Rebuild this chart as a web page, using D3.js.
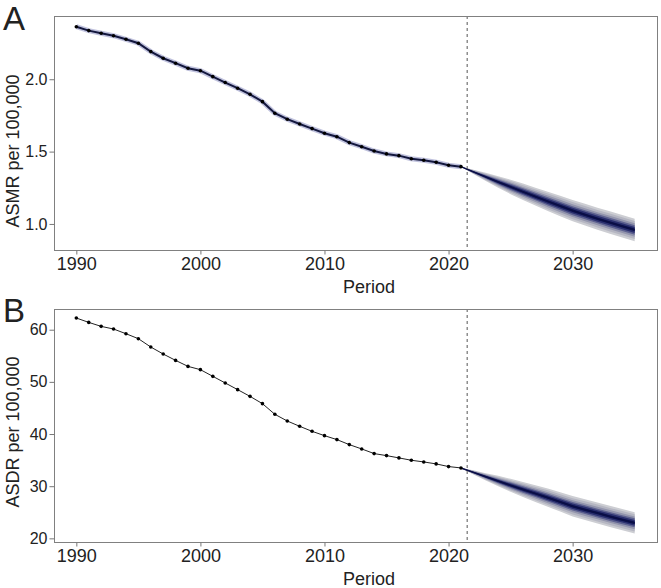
<!DOCTYPE html>
<html>
<head>
<meta charset="utf-8">
<script src="https://cdn.jsdelivr.net/npm/d3@7"></script>
<style>
  body { margin: 0; background: #fff; }
  svg { display: block; font-family: "Liberation Sans", Arial, sans-serif; }
  .tick line { stroke: #777; }
  .tick text { fill: #222; }
</style>
</head>
<body>
<div class="canvas"></div>
<script>
// observed years
const obsYears = [1990,1991,1992,1993,1994,1995,1996,1997,1998,1999,2000,2001,2002,2003,2004,2005,
  2006,2007,2008,2009,2010,2011,2012,2013,2014,2015,2016,2017,2018,2019,2020,2021];
// projected years (start at last observed)
const projYears = [2021,2022,2023,2024,2025,2026,2027,2028,2029,2030,2031,2032,2033,2034,2035];

// A: ASMR
const asmrObs = [2.363,2.336,2.318,2.301,2.276,2.249,2.191,2.145,2.111,2.076,2.059,2.018,1.977,1.938,1.896,1.845,
  1.765,1.724,1.691,1.659,1.627,1.603,1.562,1.534,1.504,1.484,1.472,1.451,1.440,1.426,1.406,1.396];
const asmrMean  = [1.396,1.360,1.325,1.290,1.256,1.222,1.189,1.156,1.124,1.092,1.064,1.036,1.010,0.984,0.959];
const asmrUpper = [1.396,1.375,1.353,1.330,1.306,1.279,1.251,1.223,1.195,1.166,1.139,1.112,1.087,1.062,1.036];
const asmrLower = [1.396,1.345,1.297,1.250,1.206,1.165,1.127,1.089,1.053,1.018,0.989,0.960,0.933,0.906,0.880];

// B: ASDR
const asdrObs = [62.24,61.40,60.64,60.13,59.23,58.28,56.68,55.34,54.12,52.97,52.34,51.06,49.79,48.51,47.22,45.82,
  43.78,42.50,41.48,40.52,39.69,38.93,37.97,37.14,36.25,35.86,35.42,34.97,34.65,34.27,33.76,33.50];
const asdrMean  = [33.50,32.65,31.80,30.98,30.16,29.36,28.58,27.80,26.98,26.15,25.50,24.85,24.20,23.58,22.97];
const asdrUpper = [33.50,33.05,32.50,31.98,31.41,30.81,30.18,29.55,28.83,28.10,27.50,26.87,26.24,25.63,25.02];
const asdrLower = [33.50,32.25,31.10,29.98,28.91,27.91,26.98,26.05,25.13,24.20,23.50,22.83,22.16,21.53,20.92];

const xTicks = [1990,2000,2010,2020,2030];
const asmrTicks = [1.0,1.5,2.0];
const asdrTicks = [20,30,40,50,60];

const width = 661, height = 588;
const svg = d3.select('.canvas').append('svg')
  .attr('width', width)
  .attr('height', height);

// fan bands: fraction of the full interval, colour
const bandFrac = [1, 0.8, 0.6, 0.42, 0.27, 0.12];
const bandCol = ['#cdced3','#b5b6c2','#9395ad','#5d6190','#2a2f6e','#0c1150'];

const x = d3.scaleLinear().domain([1988.2, 2036.8]).range([54, 657]);

function panel(opt) {
  const y = d3.scaleLinear().domain(opt.domain).range([opt.bottom, opt.top]);
  const g = svg.append('g');

  // fan chart
  bandFrac.forEach((f, k) => {
    const area = d3.area()
      .x((d, i) => x(projYears[i]))
      .y0((d, i) => y(opt.mean[i] + f * (opt.upper[i] - opt.mean[i])))
      .y1((d, i) => y(opt.mean[i] - f * (opt.mean[i] - opt.lower[i])));
    g.append('path')
      .datum(projYears)
      .attr('d', area)
      .attr('fill', bandCol[k]);
  });
  g.append('path')
    .datum(opt.mean)
    .attr('d', d3.line().x((d, i) => x(projYears[i])).y(d => y(d)))
    .attr('fill', 'none')
    .attr('stroke', '#0a0e45')
    .attr('stroke-width', 1.5);

  // observed series
  if (opt.glow) {
    g.append('path')
      .datum(opt.obs)
      .attr('d', d3.line().x((d, i) => x(obsYears[i])).y(d => y(d)))
      .attr('fill', 'none')
      .attr('stroke', '#7478b4')
      .attr('stroke-opacity', 0.45)
      .attr('stroke-width', 5);
  }
  g.append('path')
    .datum(opt.obs)
    .attr('d', d3.line().x((d, i) => x(obsYears[i])).y(d => y(d)))
    .attr('fill', 'none')
    .attr('stroke', opt.glow ? '#14183f' : '#222')
    .attr('stroke-width', opt.glow ? 2 : 1);
  g.selectAll('circle.pt')
    .data(opt.obs)
    .join('circle')
      .attr('class', 'pt')
      .attr('cx', (d, i) => x(obsYears[i]))
      .attr('cy', d => y(d))
      .attr('r', 1.8)
      .attr('fill', '#000');

  // dashed divider
  g.append('line')
    .attr('x1', x(2021.5)).attr('x2', x(2021.5))
    .attr('y1', opt.top).attr('y2', opt.bottom)
    .attr('stroke', '#555')
    .attr('stroke-dasharray', '3,3');

  // frame
  g.append('rect')
    .attr('x', 54.5).attr('y', opt.top + 0.5)
    .attr('width', 603).attr('height', opt.bottom - opt.top)
    .attr('fill', 'none')
    .attr('stroke', '#808080');

  // axes
  const ya = g.append('g')
    .attr('transform', 'translate(54.5,0)')
    .call(d3.axisLeft(y).tickValues(opt.ticks).tickFormat(opt.fmt).tickSize(5).tickPadding(2));
  ya.select('.domain').remove();
  ya.selectAll('text').style('font-size', '16px');

  const xa = g.append('g')
    .attr('transform', `translate(0,${opt.bottom + 0.5})`)
    .call(d3.axisBottom(x).tickValues(xTicks).tickFormat(d3.format('d')).tickSize(4).tickPadding(3));
  xa.select('.domain').remove();
  xa.selectAll('text').style('font-size', '18px');

  g.append('text')
    .attr('x', 369).attr('y', opt.bottom + 43)
    .attr('text-anchor', 'middle')
    .style('font-size', '18px')
    .attr('fill', '#222')
    .text('Period');

  g.append('text')
    .attr('transform', `translate(19,${opt.ylabY}) rotate(-90)`)
    .attr('text-anchor', 'middle')
    .style('font-size', '18px')
    .attr('fill', '#222')
    .text(opt.ylab);

  g.append('text')
    .attr('x', 3).attr('y', opt.letterY)
    .style('font-size', '33px')
    .attr('fill', '#222')
    .text(opt.letter);
}

panel({
  letter: 'A', letterY: 30,
  top: 16, bottom: 250,
  domain: [0.820, 2.437],
  obs: asmrObs, mean: asmrMean, upper: asmrUpper, lower: asmrLower,
  ticks: asmrTicks, fmt: d3.format('.1f'),
  ylab: 'ASMR per 100,000', ylabY: 151,
  glow: true
});

panel({
  letter: 'B', letterY: 322,
  top: 309, bottom: 542,
  domain: [19.3, 63.97],
  obs: asdrObs, mean: asdrMean, upper: asdrUpper, lower: asdrLower,
  ticks: asdrTicks, fmt: d3.format('d'),
  ylab: 'ASDR per 100,000', ylabY: 432,
  glow: false
});
</script>
</body>
</html>
